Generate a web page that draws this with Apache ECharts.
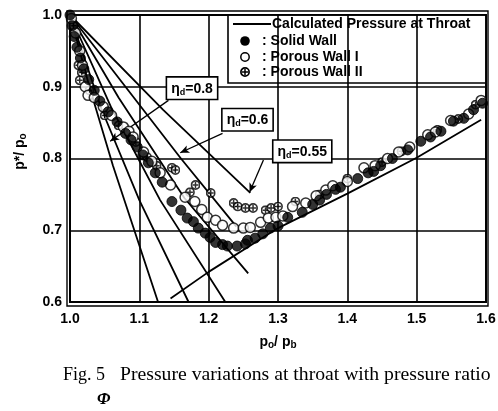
<!DOCTYPE html>
<html><head><meta charset="utf-8">
<script src="https://cdn.jsdelivr.net/npm/echarts@6/dist/echarts.min.js"></script>
<style>html,body{margin:0;padding:0;background:#fff}#c{width:498px;height:411px}</style>
</head><body><div id="c"></div>
<script>
// ---- data ----
const xTickLabels = ['1.0','1.1','1.2','1.3','1.4','1.5','1.6'];
const yTickLabels = ['0.6','0.7','0.8','0.9','1.0'];

// calculated pressure at throat (curves for several diffuser efficiencies)
const curve1 = [[1.0,1.0],[1.028,0.90],[1.062,0.79],[1.127,0.60]];
const curve2 = [[1.0,1.0],[1.045,0.87],[1.10,0.742],[1.171,0.60]];
const curve3 = [[1.0,1.0],[1.06,0.87],[1.13,0.742],[1.224,0.60]];
const curve4 = [[1.0,1.0],[1.07,0.885],[1.165,0.745],[1.257,0.64]];
const curve5 = [[1.0,1.0],[1.16,0.80],[1.24,0.705]];
const curve6 = [[1.0,1.0],[1.134,0.868],[1.26,0.752]];
const chokedLine = [[1.145,0.605],[1.2,0.642],[1.3,0.703],[1.4,0.751],[1.5,0.801],[1.593,0.854]];

const solidWall = [[1.0,1.0],[1.003,0.985],[1.006,0.97],[1.01,0.955],[1.015,0.94],[1.02,0.925],[1.027,0.91],[1.035,0.895],[1.043,0.88],[1.055,0.865],[1.068,0.851],[1.08,0.835],[1.088,0.826],[1.097,0.816],[1.105,0.805],[1.113,0.794],[1.123,0.78],[1.133,0.767],[1.147,0.740],[1.16,0.728],[1.169,0.717],[1.178,0.712],[1.185,0.703],[1.195,0.696],[1.202,0.69],[1.21,0.683],[1.22,0.68],[1.227,0.678],[1.241,0.678],[1.253,0.681],[1.256,0.686],[1.267,0.689],[1.278,0.695],[1.289,0.703],[1.3,0.706],[1.314,0.718],[1.335,0.725],[1.35,0.736],[1.36,0.742],[1.37,0.75],[1.383,0.757],[1.39,0.76],[1.415,0.772],[1.43,0.78],[1.438,0.782],[1.448,0.79],[1.465,0.80],[1.487,0.812],[1.506,0.824],[1.52,0.83],[1.535,0.838],[1.553,0.852],[1.568,0.856],[1.582,0.868],[1.595,0.877]];
const porousWall1 = [[1.002,0.995],[1.008,0.975],[1.014,0.95],[1.018,0.93],[1.022,0.90],[1.026,0.888],[1.035,0.885],[1.048,0.872],[1.06,0.86],[1.077,0.844],[1.085,0.838],[1.091,0.83],[1.106,0.809],[1.118,0.796],[1.13,0.78],[1.145,0.763],[1.166,0.746],[1.18,0.74],[1.19,0.729],[1.198,0.718],[1.21,0.714],[1.22,0.707],[1.236,0.703],[1.25,0.703],[1.26,0.704],[1.275,0.711],[1.286,0.717],[1.297,0.718],[1.307,0.72],[1.321,0.733],[1.34,0.738],[1.355,0.748],[1.369,0.756],[1.379,0.762],[1.40,0.768],[1.424,0.787],[1.44,0.79],[1.458,0.80],[1.474,0.809],[1.49,0.816],[1.516,0.833],[1.527,0.837],[1.549,0.853],[1.575,0.862],[1.593,0.881]];
const porousWall2 = [[1.005,0.985],[1.012,0.93],[1.014,0.909],[1.017,0.92],[1.028,0.895],[1.05,0.86],[1.07,0.846],[1.095,0.823],[1.111,0.802],[1.125,0.79],[1.147,0.787],[1.152,0.784],[1.173,0.753],[1.181,0.763],[1.203,0.752],[1.236,0.738],[1.242,0.733],[1.253,0.731],[1.264,0.731],[1.282,0.728],[1.29,0.731],[1.3,0.733],[1.325,0.74],[1.36,0.75],[1.40,0.772],[1.45,0.795],[1.478,0.81],[1.53,0.84],[1.56,0.855],[1.585,0.875]];

const annotations = [
  {text:'0.8',  box:[1.176,0.898], from:[1.142,0.881], to:[1.058,0.824]},
  {text:'0.6',  box:[1.256,0.854], from:[1.22,0.835],  to:[1.159,0.808]},
  {text:'0.55', box:[1.335,0.81],  from:[1.279,0.798], to:[1.259,0.753]}
];

// ---- chart ----
const SANS = 'Liberation Sans';
const plusSvg = 'data:image/svg+xml;charset=utf-8,' + encodeURIComponent(
  '<svg xmlns="http://www.w3.org/2000/svg" width="20" height="20" viewBox="0 0 20 20">' +
  '<circle cx="10" cy="10" r="8.2" fill="white" stroke="black" stroke-width="3.4"/>' +
  '<path d="M10 4V16M4 10H16" stroke="black" stroke-width="3"/></svg>');
const plusSymbol = 'image://' + plusSvg;

const chart = echarts.init(document.getElementById('c'), null, {renderer:'canvas'});
const lineStyle = {color:'#000', width:1.8};
function curve(d){ return {type:'line', data:d, showSymbol:false, symbol:'none', lineStyle:lineStyle, silent:true, z:2, animation:false}; }

const rich = {
  e:{fontSize:14, fontWeight:'bold', fontFamily:SANS, color:'#000', lineHeight:16},
  s:{fontSize:9, fontWeight:'bold', fontFamily:SANS, color:'#000', lineHeight:9, verticalAlign:'bottom'}
};

const choked = curve(chokedLine);
choked.markPoint = {
  silent:true, animation:false, symbol:'rect', symbolSize:1, itemStyle:{color:'transparent'},
  data: annotations.map(a => ({coord:a.box, label:{show:true, position:'inside',
    formatter:'{e|η}{s|d}{e|=' + a.text + '}', rich:rich, backgroundColor:'#fff',
    borderColor:'#000', borderWidth:1.6, padding:[3,4,2,4]}}))
};
choked.markLine = {
  silent:true, animation:false, symbol:['none','arrow'], symbolSize:[6,9],
  lineStyle:{color:'#000', width:1.3, type:'solid'}, label:{show:false},
  data: annotations.map(a => [{coord:a.from},{coord:a.to}])
};

const option = {
  animation:false,
  backgroundColor:'#fff',
  grid:{left:70, right:12, top:15, bottom:109, show:true, borderColor:'#000', borderWidth:2, outerBoundsMode:'none'},
  xAxis:{type:'value', min:1.0, max:1.6, interval:0.1,
    axisLine:{show:true, lineStyle:{color:'#000', width:2}}, axisTick:{show:false},
    splitLine:{show:true, lineStyle:{color:'#000', width:1.6}},
    axisLabel:{color:'#000', fontFamily:SANS, fontWeight:'bold', fontSize:14, margin:10,
      formatter:(v)=>xTickLabels[Math.round((v-1.0)*10)]},
    name:'{a|p}{s|o}{a|/ p}{s|b}', nameLocation:'middle', nameGap:32,
    nameTextStyle:{rich:{a:{fontSize:14,fontWeight:'bold',fontFamily:SANS,color:'#000',lineHeight:16}, s:{fontSize:10,fontWeight:'bold',fontFamily:SANS,color:'#000',lineHeight:10,verticalAlign:'bottom'}}}
  },
  yAxis:{type:'value', min:0.6, max:1.0, interval:0.1,
    axisLine:{show:true, lineStyle:{color:'#000', width:2}}, axisTick:{show:false},
    splitLine:{show:true, lineStyle:{color:'#000', width:1.6}},
    axisLabel:{color:'#000', fontFamily:SANS, fontWeight:'bold', fontSize:14, margin:8,
      formatter:(v)=>yTickLabels[Math.round((v-0.6)*10)]},
    name:'{a|p*/ p}{s|o}', nameLocation:'middle', nameGap:42, nameRotate:90,
    nameTextStyle:{padding:[0,0,0,14], rich:{a:{fontSize:14,fontWeight:'bold',fontFamily:SANS,color:'#000',lineHeight:16}, s:{fontSize:10,fontWeight:'bold',fontFamily:SANS,color:'#000',lineHeight:10,verticalAlign:'bottom'}}}
  },
  series:[
    curve(curve1), curve(curve2), curve(curve3), curve(curve4), curve(curve5), curve(curve6), choked,
    {name:'Porous Wall II', type:'scatter', data:porousWall2, symbol:plusSymbol, symbolSize:10, z:4, animation:false, silent:true},
    {name:'Porous Wall I', type:'scatter', data:porousWall1, symbol:'circle', symbolSize:10, z:5, animation:false, silent:true,
      itemStyle:{color:'#fff', borderColor:'#000', borderWidth:1.5}},
    {name:'Solid Wall', type:'scatter', data:solidWall, symbol:'circle', symbolSize:10, z:6, animation:false, silent:true,
      itemStyle:{color:'#000', borderColor:'#000', borderWidth:1}}
  ],
  graphic:[
    // outer double frame
    {type:'rect', shape:{x:67, y:11, width:421, height:295}, style:{fill:'none', stroke:'#000', lineWidth:1.4}, z:10, silent:true},
    // legend box
    {type:'group', z:20, silent:true, children:[
      {type:'rect', shape:{x:228, y:15, width:258, height:68}, style:{fill:'#fff', stroke:'#000', lineWidth:1.6}},
      {type:'line', shape:{x1:233, y1:24, x2:271, y2:24}, style:{stroke:'#000', lineWidth:1.8}},
      {type:'text', x:272, y:24, style:{text:'Calculated Pressure at Throat', fill:'#000', font:'bold 14px "Liberation Sans"', verticalAlign:'middle'}},
      {type:'circle', shape:{cx:245, cy:41, r:4.8}, style:{fill:'#000'}},
      {type:'text', x:262, y:41, style:{text:': Solid Wall', fill:'#000', font:'bold 14px "Liberation Sans"', verticalAlign:'middle'}},
      {type:'circle', shape:{cx:245, cy:57, r:4.2}, style:{fill:'#fff', stroke:'#000', lineWidth:1.5}},
      {type:'text', x:262, y:57, style:{text:': Porous Wall I', fill:'#000', font:'bold 14px "Liberation Sans"', verticalAlign:'middle'}},
      {type:'image', style:{image:plusSvg, x:240, y:67, width:10, height:10}},
      {type:'text', x:262, y:72, style:{text:': Porous Wall II', fill:'#000', font:'bold 14px "Liberation Sans"', verticalAlign:'middle'}}
    ]},
    // caption
    {type:'text', x:63, y:375, silent:true, style:{text:'Fig. 5', fill:'#000', font:'18px "Liberation Serif"', verticalAlign:'middle'}},
    {type:'text', x:120, y:375, silent:true, style:{text:'Pressure variations at throat with pressure ratio', fill:'#000', font:'19.7px "Liberation Serif"', verticalAlign:'middle'}},
    {type:'text', x:97, y:400, silent:true, style:{text:'Φ', fill:'#000', font:'italic bold 17px "Liberation Serif"', verticalAlign:'middle'}}
  ]
};
chart.setOption(option);
</script></body></html>
